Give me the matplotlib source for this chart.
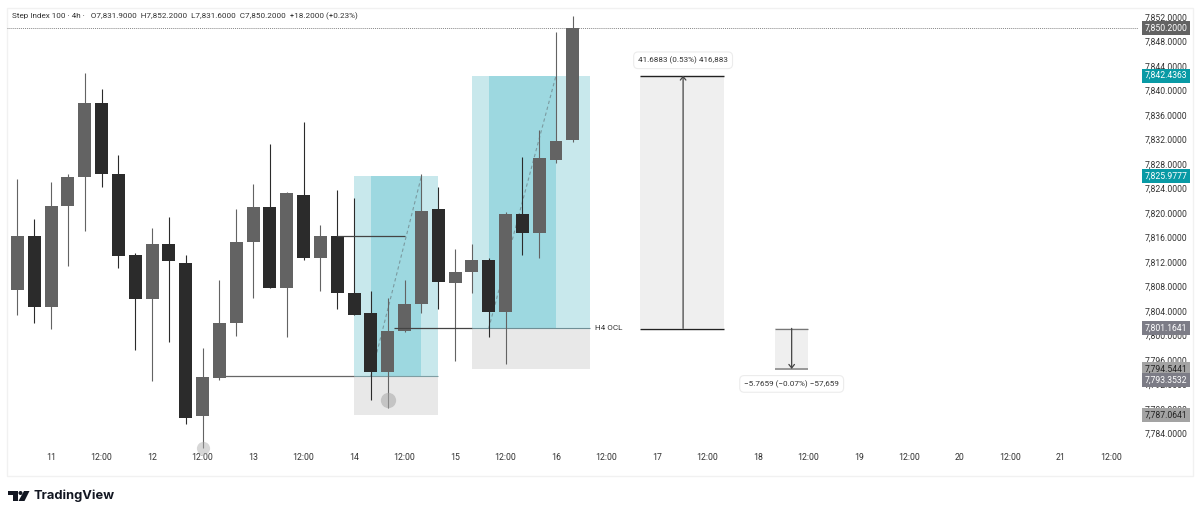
import numpy as np
import matplotlib
matplotlib.use('Agg')
import matplotlib.pyplot as plt
from matplotlib.patches import Rectangle, Polygon, Circle

plt.rcParams['font.family'] = ['Roboto', 'DejaVu Sans']

# candles, 4h bars
opens = [7807.5, 7816.3, 7804.7, 7821.2, 7825.8, 7837.9, 7826.4, 7813.1, 7805.9, 7814.9, 7811.9, 7786.8,
         7793.1, 7802.0, 7815.3, 7820.9, 7807.8, 7823.0, 7812.6, 7816.2, 7806.9, 7803.6, 7794.0, 7800.8,
         7805.2, 7820.6, 7808.5, 7810.4, 7812.4, 7803.9, 7819.9, 7816.7, 7828.7, 7831.9]
highs = [7825.5, 7819.1, 7825.1, 7826.4, 7842.8, 7840.3, 7829.4, 7813.4, 7817.5, 7819.4, 7813.1, 7798.0,
         7809.0, 7820.7, 7824.7, 7831.2, 7823.5, 7834.9, 7818.1, 7823.7, 7822.4, 7807.2, 7806.2, 7809.1,
         7826.4, 7824.2, 7814.2, 7815.0, 7812.7, 7820.2, 7829.1, 7833.6, 7849.6, 7852.2]
lows = [7803.3, 7802.0, 7801.0, 7811.3, 7817.0, 7824.3, 7811.1, 7797.6, 7792.5, 7798.9, 7785.5, 7781.7,
        7792.7, 7800.0, 7806.2, 7807.8, 7799.7, 7812.4, 7807.3, 7804.4, 7803.3, 7789.4, 7788.1, 7800.5,
        7803.6, 7804.4, 7795.9, 7807.0, 7799.7, 7795.3, 7813.2, 7812.7, 7828.1, 7831.6]
closes = [7816.2, 7804.7, 7821.2, 7825.8, 7838.0, 7826.3, 7812.9, 7806.0, 7815.0, 7812.1, 7786.6, 7793.3,
          7802.1, 7815.3, 7820.9, 7807.8, 7823.2, 7812.6, 7816.2, 7807.0, 7803.3, 7794.0, 7800.8, 7805.2,
          7820.4, 7808.7, 7810.4, 7812.4, 7803.8, 7819.8, 7816.7, 7828.9, 7831.8, 7850.2]

price_ticks = list(range(7784, 7853, 4))
time_labels = ['11', '12:00', '12', '12:00', '13', '12:00', '14', '12:00', '15', '12:00', '16', '12:00',
               '17', '12:00', '18', '12:00', '19', '12:00', '20', '12:00', '21', '12:00']

# levels drawn on the chart
last_close = 7850.2
target_1 = 7825.9777
target_2 = 7842.4363
ocl = 7801.1641
level_low = 7793.3532
level_mid = 7816.2
zone_2_low = 7794.5441
zone_1_low = 7787.0641

price_tags = [('7,850.2000', 7850.2, '#636363', 'white', 0),
              ('7,842.4363', target_2, '#089aa5', 'white', 0),
              ('7,825.9777', target_1, '#089aa5', 'white', 0),
              ('7,801.1641', ocl, '#7c7c86', 'white', 0),
              ('7,794.5441', zone_2_low, '#a3a3a3', '#222222', 0),
              ('7,793.3532', level_low, '#7c7c86', 'white', -3),
              ('7,787.0641', zone_1_low, '#a3a3a3', '#222222', 0)]

DARK = '#2b2b2b'
GRAY = '#636363'
LIGHT_TEAL = '#c8e8ec'
MID_TEAL = '#9dd8e0'
ZONE_GRAY = '#e8e8e8'
MEASURE_GRAY = '#efefef'
TEXT = '#333333'

fig = plt.figure(figsize=(12, 5.16), dpi=100)
ax = fig.add_axes([7.4 / 1200, 1 - 476.5 / 516, (1138.4 - 7.4) / 1200, (476.5 - 8.5) / 516])
ax.patch.set_alpha(0)
ax.set_xlim(-0.594, 66.6)
ax.set_ylim(7776.98, 7853.39)

# teal zones with the grey part below
ax.add_patch(Rectangle((20, level_low), 5, target_1 - level_low, fc=LIGHT_TEAL, ec='none', zorder=1))
ax.add_patch(Rectangle((21, level_low), 3, target_1 - level_low, fc=MID_TEAL, ec='none', zorder=1.1))
ax.add_patch(Rectangle((20, zone_1_low), 5, level_low - zone_1_low, fc=ZONE_GRAY, ec='none', zorder=1))
ax.add_patch(Rectangle((27, ocl), 7, target_2 - ocl, fc=LIGHT_TEAL, ec='none', zorder=1))
ax.add_patch(Rectangle((28, ocl), 4, target_2 - ocl, fc=MID_TEAL, ec='none', zorder=1.1))
ax.add_patch(Rectangle((27, zone_2_low), 7, ocl - zone_2_low, fc=ZONE_GRAY, ec='none', zorder=1))

# dashed legs
ax.plot([21, 24], [level_low, target_1], color='#7b9aa0', lw=0.8, ls=(0, (3, 2.5)), zorder=1.5)
ax.plot([28, 32], [ocl, target_2], color='#7b9aa0', lw=0.8, ls=(0, (3, 2.5)), zorder=1.5)

# last price line
ax.axhline(last_close, color='#888888', lw=0.7, ls=(0, (1, 1)), zorder=1.5)

# candles
x = np.arange(len(opens))
opens = np.array(opens)
closes = np.array(closes)
colors = [GRAY if c >= o else DARK for o, c in zip(opens, closes)]
ax.vlines(x, lows, highs, colors=colors, lw=0.8, zorder=2)
ax.bar(x, closes - opens, bottom=opens, width=0.77, color=colors, zorder=3)

# horizontal levels
ax.hlines(level_low, 12, 20, color='#666666', lw=0.9, zorder=4)
ax.hlines(level_low, 20, 25, color='#7f9ea3', lw=0.8, zorder=1.2)
ax.hlines(level_mid, 19, 23, color='#444444', lw=0.9, zorder=4)
ax.hlines(ocl, 22.4, 27, color='#444444', lw=0.9, zorder=4)
ax.hlines(ocl, 27, 34, color='#6f8f96', lw=0.8, zorder=1.2)
ax.text(34.3, ocl + 0.1, 'H4 OCL', fontsize=5.9, color=TEXT, va='center', ha='left')

# touch circles
ax.plot([22], [7789.4], 'o', ms=11, color='#a8a8a8', alpha=0.55, mew=0, zorder=5)
ax.plot([11], [7781.7], 'o', ms=9.5, color='#a8a8a8', alpha=0.45, mew=0, zorder=5)

# measure tools
ax.add_patch(Rectangle((37, ocl), 5, target_2 - ocl, fc=MEASURE_GRAY, ec='none', zorder=1))
ax.hlines([target_2, ocl - 0.15], 37, 42, color='#222222', lw=1.0, zorder=2)
ax.annotate('', xy=(39.55, target_2), xytext=(39.55, ocl),
            arrowprops=dict(arrowstyle='->,head_length=0.25,head_width=0.2', color='#444444', lw=0.9,
                            shrinkA=0, shrinkB=0), zorder=2)
ax.text(39.55, target_2 + 2.5, '41.6883 (0.53%) 416,883', fontsize=5.9, color=TEXT, ha='center', va='center',
        bbox=dict(boxstyle='round,pad=0.55', fc='white', ec='#ececec', lw=0.8), zorder=6)

ax.add_patch(Rectangle((45, zone_2_low), 2, ocl - zone_2_low, fc=MEASURE_GRAY, ec='none', zorder=1))
ax.hlines(ocl - 0.15, 45, 47, color='#777777', lw=0.9, zorder=2)
ax.hlines(zone_2_low, 45, 47, color='#999999', lw=1.4, zorder=2)
ax.annotate('', xy=(46, zone_2_low), xytext=(46, ocl),
            arrowprops=dict(arrowstyle='->,head_length=0.25,head_width=0.2', color='#444444', lw=0.9,
                            shrinkA=0, shrinkB=0), zorder=2)
ax.text(46, zone_2_low - 2.45, '\u22125.7659 (\u22120.07%) \u221257,659', fontsize=5.9, color=TEXT,
        ha='center', va='center', bbox=dict(boxstyle='round,pad=0.55', fc='white', ec='#ececec', lw=0.8), zorder=6)

# axes
ax.yaxis.tick_right()
ax.set_yticks(price_ticks)
ax.set_yticklabels([f'{p:,.4f}' for p in price_ticks], fontsize=6.2, color=TEXT)
ax.set_xticks(2 + 3 * np.arange(len(time_labels)))
ax.set_xticklabels(time_labels, fontsize=6.3, color=TEXT)
ax.tick_params(axis='both', length=0)
ax.tick_params(axis='y', pad=4.5)
ax.tick_params(axis='x', pad=-17)
for s in ax.spines.values():
    s.set_visible(False)

# coloured tags on the price scale
for label, price, bg, fg, shift in price_tags:
    ax.annotate(label, xy=(1, price), xycoords=ax.get_yaxis_transform(), xytext=(4.5, shift),
                textcoords='offset points', fontsize=6.2, color=fg, va='center', ha='left', zorder=10,
                annotation_clip=False, bbox=dict(boxstyle='square,pad=0.3', fc=bg, ec='none'))

# overlay in picture pixels for frame, header and logo
frame = fig.add_axes([0, 0, 1, 1], zorder=-1)
frame.set_xlim(0, 1200)
frame.set_ylim(516, 0)
frame.axis('off')
frame.add_patch(Rectangle((7, 8), 1186, 468, fc='white', ec='#f1f1f1', lw=1))

fig.text(12 / 1200, 1 - 16.5 / 516,
         'Step Index 100 \u00b7 4h \u00b7   O7,831.9000  H7,852.2000  L7,831.6000  C7,850.2000  +18.2000 (+0.23%)',
         fontsize=5.9, color=TEXT, va='center', ha='left')

logo = fig.add_axes([0, 0, 1, 1], zorder=5)
logo.patch.set_alpha(0)
logo.set_xlim(0, 1200)
logo.set_ylim(516, 0)
logo.axis('off')
logo.add_patch(Polygon([(8, 491), (17.5, 491), (17.5, 501), (12.5, 501), (12.5, 495), (8, 495)], fc='#131722', ec='none'))
logo.add_patch(Circle((20.5, 493), 2, fc='#131722', ec='none'))
logo.add_patch(Polygon([(24, 491), (29.5, 491), (24.5, 501), (18.5, 501)], fc='#131722', ec='none'))
logo.text(33, 496, 'TradingView', fontsize=9.3, fontweight='bold', color='#131722', va='center', ha='left',
          family=['Inter', 'DejaVu Sans'])

fig.savefig('out.png', dpi=100)
